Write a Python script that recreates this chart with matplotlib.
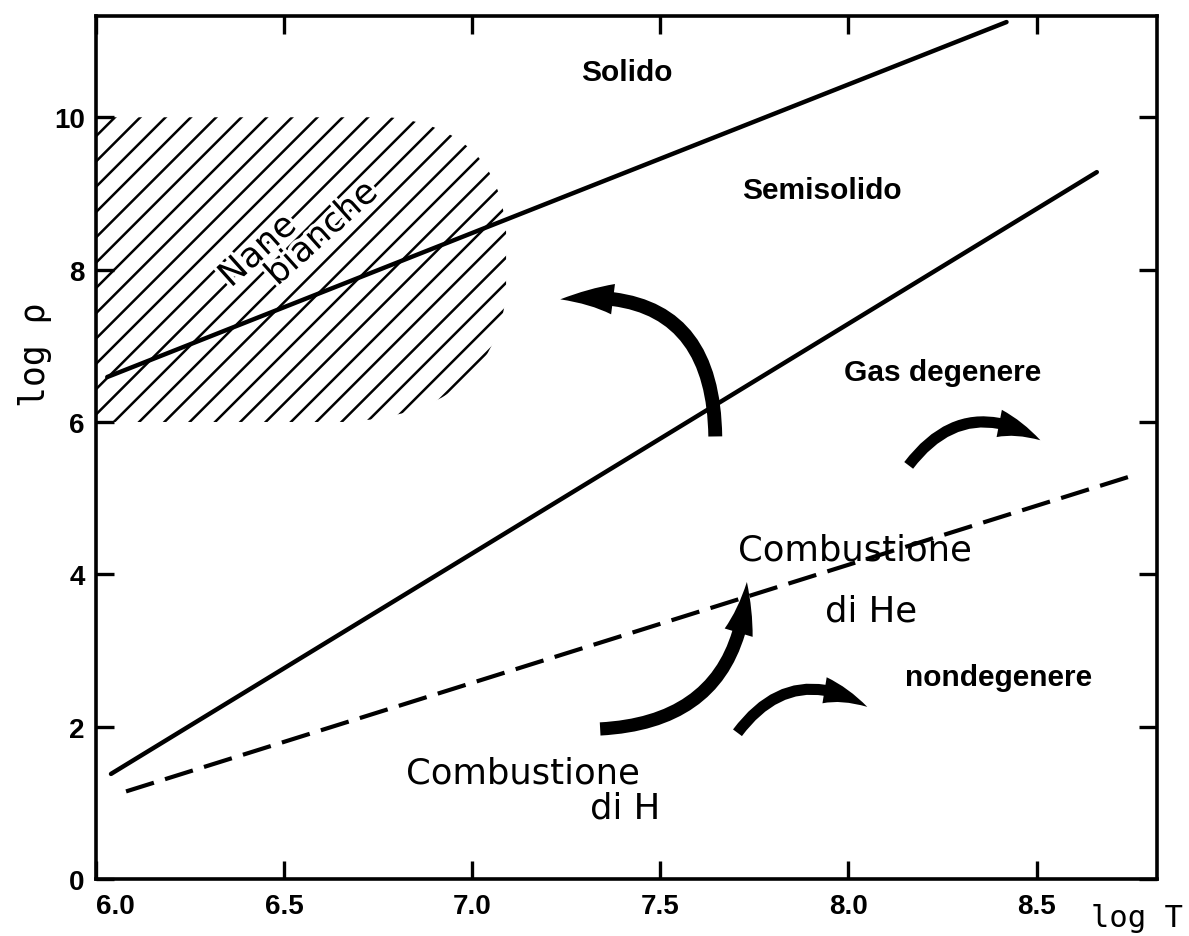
import numpy as np
import matplotlib
matplotlib.use("Agg")
import matplotlib.pyplot as plt
from matplotlib.path import Path
from matplotlib.patches import PathPatch, FancyArrowPatch
import matplotlib.patheffects as pe

plt.rcParams["font.family"] = ["Liberation Sans", "DejaVu Sans"]
plt.rcParams["xtick.labelsize"] = 20
plt.rcParams["ytick.labelsize"] = 20

# boundaries in the (log T, log rho) plane
solid_T = [6.03, 8.42]
solid_rho = [6.59, 11.25]
degen_T = [6.04, 8.66]
degen_rho = [1.38, 9.28]
burn_T = [6.08, 8.745]
burn_rho = [1.15, 5.28]

# white dwarf (hatched) region outline
wd_T = [6.0, 6.66, 7.05, 7.09, 7.09, 7.07, 6.78, 6.0]
wd_rho = [6.0, 6.0, 6.1, 7.65, 8.5, 9.85, 10.0, 10.0]

# region labels
bold_labels = ["Solido", "Semisolido", "Gas degenere", "nondegenere"]
bold_T = [7.41, 7.93, 8.25, 8.40]
bold_rho = [10.60, 9.05, 6.65, 2.65]

plain_labels = ["Combustione", "di He", "Combustione", "di H"]
plain_T = [8.016, 8.06, 7.136, 7.407]
plain_rho = [4.33, 3.52, 1.40, 0.945]

# curved arrows: start, end, curvature, sizes (points)
arrow_start_T = [7.646, 8.16, 7.34, 7.705]
arrow_start_rho = [5.81, 5.43, 1.97, 1.92]
arrow_end_T = [7.234, 8.51, 7.73, 8.05]
arrow_end_rho = [7.61, 5.76, 3.90, 2.26]
arrow_rad = [0.55, -0.45, 0.45, -0.45]
arrow_tail = [10, 8, 9.5, 8]
arrow_head_w = [22, 20, 21, 19]
arrow_head_l = [38, 32, 37, 33]

xticks = [6.0, 6.5, 7.0, 7.5, 8.0, 8.5]
yticks = [0, 2, 4, 6, 8, 10]

fig = plt.figure(figsize=(11.89, 9.37), dpi=100)
ax = fig.add_axes([0.0807, 0.0608, 0.8924, 0.9211])
ax.set_xlim(6.0, 8.82)
ax.set_ylim(0, 11.33)

for s in ax.spines.values():
    s.set_linewidth(2.6)

ax.set_xticks(xticks)
ax.set_xticklabels(["%.1f" % t for t in xticks], fontweight="bold")
ax.set_yticks(yticks)
ax.set_yticklabels([str(t) for t in yticks], fontweight="bold")
ax.tick_params(direction="in", length=13, width=2.4, top=True, right=True)
ax.tick_params(axis="y", pad=8)
ax.tick_params(axis="x", pad=10)
ax.get_xticklabels()[0].set_horizontalalignment("left")

ax.plot(solid_T, solid_rho, color="black", lw=3.2, solid_capstyle="round")
ax.plot(degen_T, degen_rho, color="black", lw=3.2, solid_capstyle="round")
ax.plot(burn_T, burn_rho, color="black", lw=3.0, dashes=(7, 2.8))

# hatched region, lines at 45 degrees on screen
codes = [Path.MOVETO, Path.LINETO, Path.CURVE3, Path.CURVE3, Path.LINETO,
         Path.CURVE3, Path.CURVE3, Path.LINETO]
region = PathPatch(Path(np.column_stack([wd_T, wd_rho]), codes),
                   facecolor="none", edgecolor="none")
ax.add_patch(region)
bb = ax.get_window_extent()
k = (bb.width / (8.82 - 6.0)) / (bb.height / 11.33)
step = 25.3 / (bb.width / (8.82 - 6.0))
xx = np.array([5.0, 7.5])
for n in range(-25, 25):
    c = 6.0505 + n * step - 10.0 / k
    ln, = ax.plot(xx, k * (xx - c), color="black", lw=1.8)
    ln.set_clip_path(region)

halo = [pe.withStroke(linewidth=5, foreground="white")]
ax.text(6.43, 8.25, "Nane", rotation=42, rotation_mode="anchor",
        ha="center", va="center", fontsize=25, family="DejaVu Sans",
        path_effects=halo)
ax.text(6.60, 8.48, "bianche", rotation=42, rotation_mode="anchor",
        ha="center", va="center", fontsize=25, family="DejaVu Sans",
        path_effects=halo)

for lab, t, r in zip(bold_labels, bold_T, bold_rho):
    ax.text(t, r, lab, ha="center", va="center", fontsize=21.5,
            fontweight="bold", family="Liberation Sans")
for lab, t, r in zip(plain_labels, plain_T, plain_rho):
    ax.text(t, r, lab, ha="center", va="center", fontsize=25.5,
            family="DejaVu Sans")

for i in range(len(arrow_rad)):
    style = "Simple,tail_width=%g,head_width=%g,head_length=%g" % (
        arrow_tail[i], arrow_head_w[i], arrow_head_l[i])
    arr = FancyArrowPatch((arrow_start_T[i], arrow_start_rho[i]),
                          (arrow_end_T[i], arrow_end_rho[i]),
                          connectionstyle="arc3,rad=%g" % arrow_rad[i],
                          arrowstyle=style, mutation_scale=1,
                          shrinkA=0, shrinkB=0, color="black", lw=0)
    ax.add_patch(arr)

ax.set_ylabel("log \u03c1", family="DejaVu Sans Mono", fontsize=25,
              va="center")
ax.yaxis.set_label_coords(-0.0575, 0.608)
ax.set_xlabel("log T", family="DejaVu Sans Mono", fontsize=22, va="top")
ax.xaxis.set_label_coords(0.981, -0.028)

fig.savefig("out.png", dpi=100, facecolor="white")
